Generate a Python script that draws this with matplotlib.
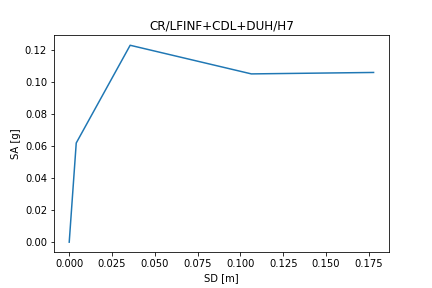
import matplotlib
matplotlib.use('Agg')
import matplotlib.pyplot as plt

# Spectral displacement and acceleration values.
sd = [0.0, 0.0041, 0.0356, 0.1064, 0.1778]
sa = [0.0, 0.0620, 0.1231, 0.1052, 0.1061]

fig, ax = plt.subplots(figsize=(6, 4), dpi=72)
fig.subplots_adjust(left=0.125, right=0.9, bottom=0.125, top=0.877)
ax.plot(sd, sa)

ax.set_title("CR/LFINF+CDL+DUH/H7")
ax.set_xlabel("SD [m]")
ax.set_ylabel("SA [g]")

fig.savefig('out.png', dpi=72)
